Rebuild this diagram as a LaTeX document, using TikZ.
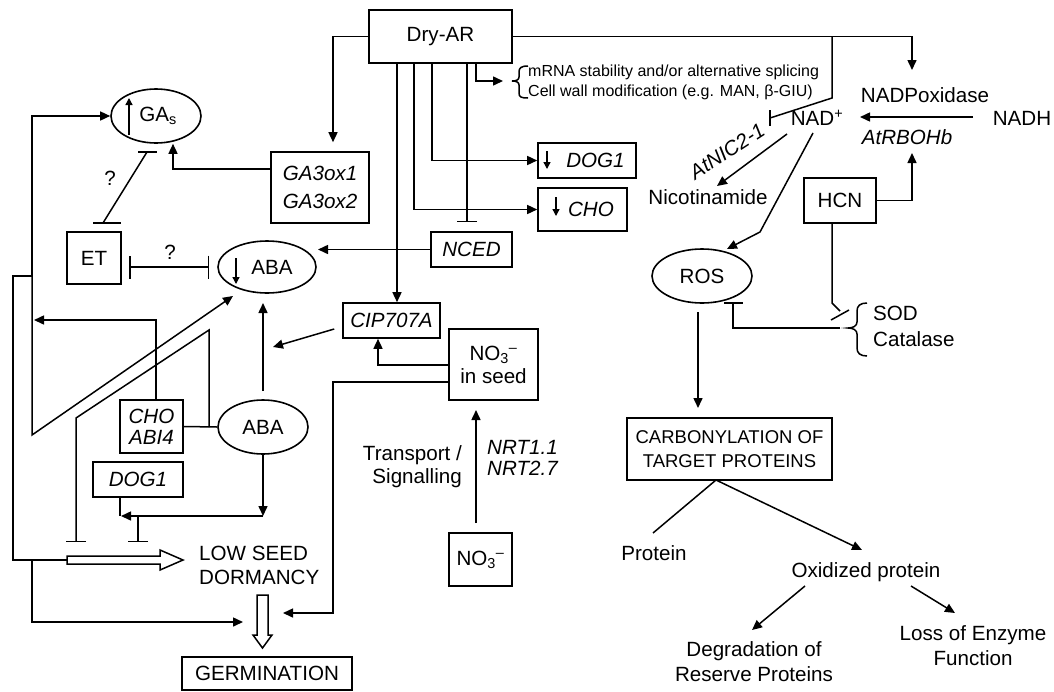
\documentclass[tikz,border=0pt]{standalone}
\usepackage{fontspec}
\setmainfont{Liberation Sans}
\usetikzlibrary{arrows.meta,calc,shapes.geometric}
\newcommand\fA{\fontsize{20.6}{24}\selectfont}
\newcommand\fI{\fontsize{20.6}{24}\selectfont\itshape}
\newcommand\fC{\fontsize{18.5}{24}\selectfont}
\newcommand\fS{\fontsize{16}{20}\selectfont}
\begin{document}
\begin{tikzpicture}[x=1pt,y=-1pt,font=\fA,
  ln/.style={line width=1.5pt},
  arr/.style={ln,-{Triangle[length=10pt,width=9pt]}},
  sarr/.style={line width=1.3pt,-{Triangle[length=7pt,width=7pt]}},
  tbar/.style={ln,-{Bar[width=20pt]}},
  bx/.style={draw,line width=1.6pt,inner sep=0pt,align=center},
  ell/.style={draw,ellipse,line width=1.6pt,inner sep=0pt},
  txt/.style={inner sep=0pt,align=center}]
\useasboundingbox (0,0) rectangle (1054,691);
% boxes
\node[bx,minimum width=143pt,minimum height=53pt] (dry) at (440.5,36.5) {Dry-AR};
\node[bx,minimum width=98pt,minimum height=71pt,font=\fI] (ga3) at (320,187.5) {GA3ox1\\[4pt]GA3ox2};
\node[bx,minimum width=98pt,minimum height=35pt] (dogt) at (587,160.5) {\hspace{17pt}\textit{DOG1}};
\node[bx,minimum width=89pt,minimum height=43pt] (chot) at (582.5,209.5) {\hspace{17pt}\textit{CHO}};
\node[bx,minimum width=81pt,minimum height=35pt,font=\fI] (nced) at (471.5,249.5) {NCED};
\node[bx,minimum width=97pt,minimum height=35pt,font=\fI] (cip) at (391.5,320.5) {CIP707A};
\node[bx,minimum width=89pt,minimum height=71pt] (nos) at (493.5,364.5) {NO\textsubscript{3}\textsuperscript{–}\\[-1pt]in seed};
\node[bx,minimum width=63pt,minimum height=53pt] (no3) at (480.5,559.5) {NO\textsubscript{3}\textsuperscript{–}};
\node[bx,minimum width=54pt,minimum height=52pt] (et) at (94,258) {ET};
\node[bx,minimum width=63pt,minimum height=53pt,font=\fI] (choabi) at (151.5,426.5) {CHO\\[-3pt]ABI4};
\node[bx,minimum width=90pt,minimum height=35pt,font=\fI] (dogl) at (138,479.5) {DOG1};
\node[bx,minimum width=170pt,minimum height=33pt] (germ) at (267,673.5) {GERMINATION};
\node[bx,minimum width=72pt,minimum height=45pt] (hcn) at (840,200.5) {HCN};
\node[bx,minimum width=205pt,minimum height=62pt,font=\fC] (carb) at (729.5,449) {CARBONYLATION OF\\TARGET PROTEINS};
% ellipses
\node[ell,minimum width=90pt,minimum height=54pt] (gas) at (156,116) {\hspace{4pt}GA\textsubscript{s}};
\node[ell,minimum width=98pt,minimum height=52pt] (abau) at (267,267) {\hspace{10pt}ABA};
\node[ell,minimum width=90pt,minimum height=54pt] (abal) at (263,427) {ABA};
\node[ell,minimum width=100pt,minimum height=54pt] (ros) at (702,276) {ROS};
% text
\node[txt] (nadpox) at (925,95) {NADPoxidase};
\node[txt] (nadh) at (1022,118) {NADH};
\node[txt] (nadp) at (817,118) {NAD\textsuperscript{+}};
\node[txt,font=\fI] (rboh) at (907,137) {AtRBOHb};
\node[txt] (nico) at (708,197) {Nicotinamide};
\node[txt,font=\fI,rotate=33] (nic) at (727,151) {AtNIC2-1};
\node[txt,align=left,anchor=west] (sod) at (873,326) {SOD\\[2pt]Catalase};
\node[txt,font=\fS,align=left,anchor=west] (mrna) at (528,82) {mRNA stability and/or alternative splicing\\Cell wall modification (e.g. MAN, β-GIU)};
\node[txt] (prot) at (654,553) {Protein};
\node[txt] (oxp) at (866,572) {Oxidized protein};
\node[txt] (degr) at (754,662) {Degradation of\\[1pt]Reserve Proteins};
\node[txt] (loss) at (973,645.5) {Loss of Enzyme\\[1pt]Function};
\node[txt,align=left,anchor=west] (lsd) at (199,565) {LOW SEED\\DORMANCY};
\node[txt,align=right,anchor=east] (trans) at (462,466.5) {Transport /\\[-1pt]Signalling};
\node[txt,font=\fI,align=left,anchor=west] (nrt) at (487,457.5) {NRT1.1\\[-3pt]NRT2.7};
\node[txt] (q1) at (110,178) {?};
\node[txt] (q2) at (170,252) {?};
% named free ends
\coordinate (ha) at (67,560);
\coordinate (gl) at (243,622);
\coordinate (gr) at (283,613);
\coordinate (jL) at (32,276);
% inner arrows
\draw[sarr] (129,135) -- (129,98);
\draw[sarr] (236,258) -- (236,284);
\draw[sarr] (547,151) -- (547,169);
\draw[sarr] (556,197) -- (556,216);
% hollow arrows
\draw[ln,line join=miter] (67,556) -- (160,556) -- (160,550) -- (183,560) -- (160,570) -- (160,564) -- (67,564) -- cycle;
\draw[ln,line join=miter] (257,595) -- (268,595) -- (268,635) -- (272,635) -- (262.5,648) -- (253,635) -- (257,635) -- cycle;
% Dry-AR connectors
\draw[arr] (dry.west) -| ($(ga3.north)+(13,-9)$);
\draw[arr] (ga3.west |- 0,169) -| ($(gas.south)+(17,0)$);
\draw[arr] ($(dry.south)+(-8.5,0)$) |- (dogt.west);
\draw[arr] ($(dry.south)+(-26.5,0)$) |- (chot.west);
\draw[tbar] ($(dry.south)+(26.5,0)$) -- (467,222);
\draw[arr] ($(dry.south)+(35.5,0)$) |- (503,81);
\draw[arr] ($(dry.south)+(-43.5,0)$) -- ($(cip.north)+(5.5,0)$);
\draw[arr] (dry.east) -| (912,70);
\draw[ln] (832,36.5) -- (832,98) -- (770,118);
\draw[ln] (770,110) -- (770,126);
% braces
\draw[ln] (528,66) .. controls (521,66) and (519,68) .. (519,72) -- (519,77) .. controls (519,80) and (516,81) .. (512,81) .. controls (516,81) and (519,82) .. (519,85) -- (519,93) .. controls (519,97) and (521,98) .. (528,98);
\draw[ln] (867,303) .. controls (860,303) and (857,306) .. (857,311) -- (857,322) .. controls (857,326) and (853,328) .. (848,328) .. controls (853,328) and (857,330) .. (857,334) -- (857,348) .. controls (857,353) and (860,356) .. (867,356);
% left network
\draw[arr] (jL) -- (32,116) -- (gas.west);
\draw[arr] (jL) -- (32,435) -- (233,296);
\draw[ln] (ha) -- (13,560) -- (13,276) -- (jL);
\draw[arr] (32,560) -- (32,622) -- (gl);
\draw[arr] ($(choabi.north)+(4.5,0)$) -- (156,320) -- (34,320);
\draw[tbar] (209,427) -- (209,330) -- (76,418) -- (76,542);
\draw[ln] (choabi.east) -- (abal.west);
\draw[arr] ($(abal.north)+(0,-8)$) -- (263,303);
\draw[arr] ($(cip.west)+(-8,8.5)$) -- (273,347);
\draw[arr] (nced.west) -- (318,249.5);
\draw[ln,{Bar[width=23pt]}-{Bar[width=23pt]}] (129,267) -- (209,267);
\draw[ln] (103,223) -- (147,152);
\draw[ln] (93,223) -- (121,223);
\draw[ln] (138,152) -- (157,152);
\draw[arr] (abal.south) -- (263,516);
\draw[arr] (263,516) -- (121,516);
\draw[ln] ($(dogl.south)+(-18,0)$) -- (120,516);
\draw[tbar] (138,516) -- (138,542);
% nitrate
\draw[arr] ($(no3.north)+(-4.5,-9)$) -- (476,410);
\draw[arr] (nos.west |- 0,365) -- (378,365) -- ($(cip.south)+(-13.5,0)$);
\draw[arr] (nos.west |- 0,382) -- (333,382) -- (333,613) -- (gr);
% right side
\draw[arr] (973,117) -- (860,117);
\draw[arr] (hcn.east) -| (912,153);
\draw[arr] (787,134) -- (717,186);
\draw[arr] (813,133) -- (760,232) -- (727,249);
\draw[ln] ($(hcn.south)+(-8,0)$) -- (832,303) -- (840,311);
\draw[ln] (831,320) -- (849,310);
\draw[ln] (840,328) -- (733,328) -- (733,303);
\draw[ln] (724,303) -- (743,303);
\draw[arr] (698,312) -- (698,408);
\draw[ln] (716,480) -- (653,533);
\draw[arr] (716,480) -- (862,550);
\draw[arr] (805,586) -- (752,630);
\draw[arr] (911,586) -- (955,613);
\end{tikzpicture}
\end{document}
